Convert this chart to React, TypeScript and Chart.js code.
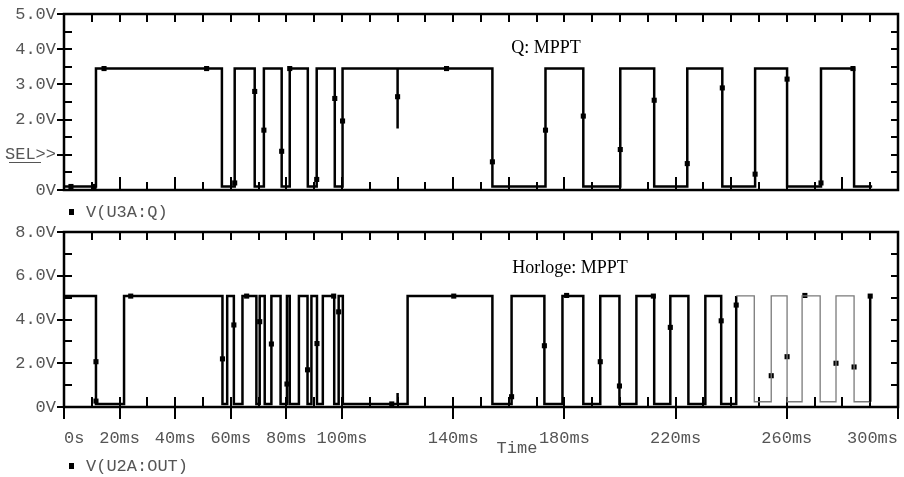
import React, { useEffect, useRef } from 'react';
import { Chart, registerables } from 'chart.js';

Chart.register(...registerables);

// ---- axis ticks / labels ----
const xLabelTicks = [0, 20, 40, 60, 80, 100, 140, 180, 220, 260, 300];
const xLabelText = ['0s', '20ms', '40ms', '60ms', '80ms', '100ms', '140ms', '180ms', '220ms', '260ms', '300ms'];
const xMinorTicks = [10, 20, 30, 40, 50, 60, 70, 80, 90, 100, 110, 120, 130, 140, 150, 160, 170, 180, 190, 200, 210, 220, 230, 240, 250, 260, 270, 280, 290];
const topYTicks = [0, 1, 2, 3, 4, 5];
const topYLabels = ['0V', 'SEL>>', '2.0V', '3.0V', '4.0V', '5.0V'];
const topYMinor = [0.5, 1, 1.5, 2, 2.5, 3, 3.5, 4, 4.5];
const botYTicks = [0, 2, 4, 6, 8];
const botYLabels = ['0V', '2.0V', '4.0V', '6.0V', '8.0V'];
const botYMinor = [1, 2, 3, 4, 5, 6, 7];

// ---- V(U3A:Q) : [time ms, level V] (level starts at time) ----
const qSteps: [number, number][] = [
  [0, 0.1], [11.5, 3.45], [56.8, 0.1], [61.4, 3.45], [68.6, 0.1], [71.9, 3.45],
  [78.3, 0.1], [81.2, 3.45], [87.7, 0.1], [90.9, 3.45], [97.4, 0.1], [100.2, 3.45],
  [120, 1.75], [120, 3.45], [154.1, 0.1], [173.2, 3.45], [186.8, 0.1], [200.1, 3.45],
  [212.3, 0.1], [224.2, 3.45], [236.8, 0.1], [248.6, 3.45], [260.1, 0.1], [272.3, 3.45],
  [284.2, 0.1], [290.7, 0.1],
];
const qMarkers: [number, number][] = [
  [2.5, 0.1], [10.8, 0.1], [14.4, 3.45], [51.3, 3.45], [61.4, 0.2], [68.6, 2.8],
  [71.9, 1.7], [78.3, 1.1], [81.2, 3.45], [90.9, 0.3], [97.4, 2.6], [100.2, 1.96],
  [120, 2.65], [137.6, 3.45], [154.1, 0.8], [173.2, 1.7], [186.8, 2.1], [200.1, 1.15],
  [212.3, 2.55], [224.2, 0.75], [236.8, 2.9], [248.6, 0.45], [260.1, 3.15], [272.3, 0.2],
  [283.8, 3.45],
];

// ---- V(U2A:OUT) ----
const clkSteps: [number, number][] = [
  [0, 5.07], [11.5, 0.14], [21.6, 5.07], [57.0, 0.14], [58.7, 5.07], [61.1, 0.14],
  [64.2, 5.07], [69.2, 0.14], [70.4, 5.07], [72.2, 0.14], [74.6, 5.07], [77.9, 0.14],
  [80.2, 5.07], [81.2, 0.14], [84.5, 5.07], [87.6, 0.14], [89.0, 5.07], [91.0, 0.14],
  [93.1, 5.07], [97.2, 0.14], [98.8, 5.07], [100.3, 0.14], [120, 0.64], [120, 0.14],
  [123.6, 5.07], [154.1, 0.14], [161.0, 5.07], [172.8, 0.14], [179.3, 5.07], [186.8, 0.14],
  [192.9, 5.07], [199.8, 0.14], [205.9, 5.07], [212.3, 0.14], [218.1, 5.07], [224.6, 0.14],
  [230.7, 5.07], [236.4, 0.14], [241.8, 5.08], [248.3, 0.24], [254.4, 5.08], [260.1, 0.24],
  [265.5, 5.08], [272.0, 0.24], [277.7, 5.08], [284.2, 0.24], [290.0, 0.24], [290.0, 5.07],
];
const clkGreyFrom = 241.8;
const clkMarkers: [number, number][] = [
  [11.5, 2.07], [11.5, 0.27], [24.0, 5.07], [57.0, 2.2], [61.1, 3.75], [65.7, 5.07],
  [70.4, 3.9], [74.6, 2.88], [80.2, 1.05], [87.6, 1.7], [91.0, 2.9], [97.0, 5.07],
  [98.8, 4.35], [117.9, 0.14], [140.2, 5.07], [161.0, 0.47], [172.8, 2.8], [180.8, 5.1],
  [192.9, 2.07], [199.8, 0.96], [212.0, 5.07], [218.1, 3.64], [236.4, 3.94], [241.8, 4.66],
  [254.4, 1.43], [260.1, 2.3], [266.5, 5.1], [277.7, 2.0], [284.2, 1.83], [290.0, 5.07],
];

const MONO = '"Liberation Mono", "DejaVu Sans Mono", monospace';
const SERIF = '"Liberation Serif", "DejaVu Serif", serif';
const LABEL_COLOR = '#555';

const toXY = (arr: [number, number][]) => arr.map(([x, y]) => ({ x, y }));

function frameTicksPlugin(yMinor: number[], bottomLen: (t: number) => number) {
  return {
    id: 'frameTicks',
    beforeDatasetsDraw(chart: any) {
      const { ctx, chartArea: a, scales } = chart;
      const xs = scales.x;
      const ys = scales.y;
      ctx.save();
      ctx.strokeStyle = '#000';
      ctx.lineWidth = 2;
      ctx.beginPath();
      for (const t of xMinorTicks) {
        const px = Math.round(xs.getPixelForValue(t));
        ctx.moveTo(px, a.top);
        ctx.lineTo(px, a.top + 8);
        ctx.moveTo(px, a.bottom);
        ctx.lineTo(px, a.bottom - bottomLen(t));
      }
      for (const v of yMinor) {
        const py = Math.round(ys.getPixelForValue(v));
        ctx.moveTo(a.left, py);
        ctx.lineTo(a.left + 8, py);
        ctx.moveTo(a.right, py);
        ctx.lineTo(a.right - 7, py);
      }
      ctx.stroke();
      ctx.lineWidth = 2.5;
      ctx.strokeRect(a.left, a.top, a.right - a.left, a.bottom - a.top);
      ctx.restore();
    },
  };
}

function textPlugin(draw: (ctx: CanvasRenderingContext2D) => void) {
  return {
    id: 'texts',
    afterDraw(chart: any) {
      const ctx = chart.ctx as CanvasRenderingContext2D;
      ctx.save();
      draw(ctx);
      ctx.restore();
    },
  };
}

function legendItem(ctx: CanvasRenderingContext2D, y: number, text: string) {
  ctx.fillStyle = '#000';
  ctx.fillRect(69, y - 3, 5, 6);
  ctx.fillStyle = LABEL_COLOR;
  ctx.font = `17px ${MONO}`;
  ctx.textAlign = 'left';
  ctx.textBaseline = 'middle';
  ctx.fillText(text, 86, y);
}

function yScale(max: number, ticks: number[], labels: string[]) {
  return {
    type: 'linear',
    min: 0,
    max,
    afterBuildTicks: (s: any) => { s.ticks = ticks.map((v) => ({ value: v })); },
    afterFit: (s: any) => { s.width = 64; s.paddingTop = 0; s.paddingBottom = 0; },
    ticks: {
      padding: 1,
      color: LABEL_COLOR,
      font: { family: MONO, size: 17 },
      callback: (v: number) => labels[ticks.indexOf(v)] ?? '',
    },
    grid: { drawOnChartArea: false, drawTicks: true, tickLength: 7, lineWidth: 2, color: '#000' },
    border: { display: false },
  };
}

const baseOptions = {
  responsive: false,
  animation: false,
  devicePixelRatio: 1,
  events: [],
  plugins: { legend: { display: false }, tooltip: { enabled: false } },
};

export default function App() {
  const topRef = useRef<HTMLCanvasElement>(null);
  const botRef = useRef<HTMLCanvasElement>(null);

  useEffect(() => {
    const top = new Chart(topRef.current!, {
      type: 'line',
      data: {
        datasets: [
          {
            data: toXY(qSteps),
            borderColor: '#000',
            borderWidth: 2.5,
            stepped: true,
            pointRadius: 0,
            fill: false,
          },
          {
            data: toXY(qMarkers),
            showLine: false,
            pointStyle: 'rect',
            pointRadius: 3.6,
            pointBackgroundColor: '#000',
            pointBorderWidth: 0,
          },
        ],
      },
      options: {
        ...baseOptions,
        layout: { padding: { left: 0, top: 14, right: 6, bottom: 287 } },
        scales: {
          x: {
            type: 'linear',
            min: 0,
            max: 300,
            afterFit: (s: any) => { s.height = 0; s.paddingLeft = 0; s.paddingRight = 0; },
            ticks: { display: false },
            grid: { display: false },
            border: { display: false },
          },
          y: yScale(5, topYTicks, topYLabels),
        },
      } as any,
      plugins: [
        frameTicksPlugin(topYMinor, (t) => (t % 20 === 0 ? 13 : 8)),
        textPlugin((ctx) => {
          ctx.fillStyle = '#000';
          ctx.font = `18px ${SERIF}`;
          ctx.textAlign = 'center';
          ctx.textBaseline = 'middle';
          ctx.fillText('Q: MPPT', 546, 48);
          // underline of SEL
          ctx.strokeStyle = LABEL_COLOR;
          ctx.lineWidth = 1;
          ctx.beginPath();
          ctx.moveTo(9, 162.5);
          ctx.lineTo(41, 162.5);
          ctx.stroke();
          legendItem(ctx, 212, 'V(U3A:Q)');
        }),
      ],
    });

    const isGrey = (c: any) => c.p0.parsed.x >= clkGreyFrom && c.p1.parsed.x > c.p0.parsed.x;

    const bot = new Chart(botRef.current!, {
      type: 'line',
      data: {
        datasets: [
          {
            data: toXY(clkSteps),
            borderColor: '#000',
            borderWidth: 2.5,
            stepped: true,
            pointRadius: 0,
            fill: false,
            segment: {
              borderColor: (c: any) => (isGrey(c) ? '#7a7a7a' : '#000'),
              borderWidth: (c: any) => (isGrey(c) ? 1.3 : 2.5),
            },
          },
          {
            data: toXY(clkMarkers),
            showLine: false,
            pointStyle: 'rect',
            pointRadius: 3.6,
            pointBackgroundColor: '#000',
            pointBorderWidth: 0,
          },
        ],
      },
      options: {
        ...baseOptions,
        layout: { padding: { left: 0, top: 232, right: 6, bottom: 0 } },
        scales: {
          x: {
            type: 'linear',
            min: 0,
            max: 300,
            afterBuildTicks: (s: any) => { s.ticks = xLabelTicks.map((v) => ({ value: v })); },
            afterFit: (s: any) => { s.height = 70; s.paddingLeft = 0; s.paddingRight = 0; },
            ticks: {
              align: 'inner',
              autoSkip: false,
              maxRotation: 0,
              minRotation: 0,
              padding: 9,
              color: LABEL_COLOR,
              font: { family: MONO, size: 17 },
              callback: (v: number) => xLabelText[xLabelTicks.indexOf(v)] ?? '',
            },
            grid: { drawOnChartArea: false, drawTicks: true, tickLength: 12, lineWidth: 2, color: '#000' },
            border: { display: false },
          },
          y: yScale(8, botYTicks, botYLabels),
        },
      } as any,
      plugins: [
        frameTicksPlugin(botYMinor, () => 10),
        textPlugin((ctx) => {
          ctx.fillStyle = '#000';
          ctx.font = `18px ${SERIF}`;
          ctx.textAlign = 'center';
          ctx.textBaseline = 'middle';
          ctx.fillText('Horloge: MPPT', 570, 268);
          ctx.fillStyle = LABEL_COLOR;
          ctx.font = `17px ${MONO}`;
          ctx.fillText('Time', 517, 448);
          legendItem(ctx, 466, 'V(U2A:OUT)');
        }),
      ],
    });

    return () => {
      top.destroy();
      bot.destroy();
    };
  }, []);

  return (
    <div style={{ position: 'fixed', left: 0, top: 0, width: 904, height: 477, background: '#fff' }}>
      <canvas ref={topRef} width={904} height={477} style={{ position: 'absolute', left: 0, top: 0 }} />
      <canvas ref={botRef} width={904} height={477} style={{ position: 'absolute', left: 0, top: 0 }} />
    </div>
  );
}
